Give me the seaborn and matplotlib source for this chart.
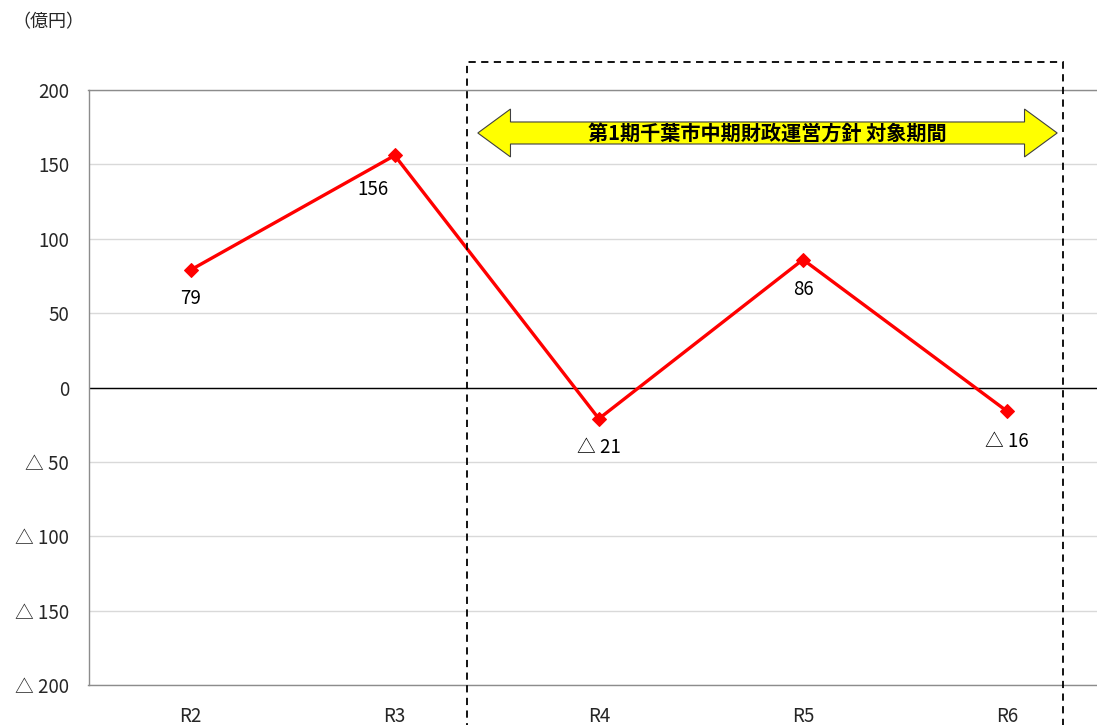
import matplotlib
matplotlib.use("Agg")
import matplotlib.pyplot as plt
import matplotlib.patches as mpatches
from matplotlib.ticker import FuncFormatter
import seaborn as sns
import pandas as pd

# data
years = ["R2", "R3", "R4", "R5", "R6"]
balance = [79, 156, -21, 86, -16]
y_ticks = [-200, -150, -100, -50, 0, 50, 100, 150, 200]
period_title = "第1期千葉市中期財政運営方針 対象期間"

sns.set_theme(style="white")
plt.rcParams["font.family"] = ["Noto Sans CJK JP", "DejaVu Sans"]


def fmt(v):
    v = int(round(v))
    return f"△ {abs(v)}" if v < 0 else f"{v}"


df = pd.DataFrame({"year": years, "value": balance})
df["pos"] = range(len(df))

fig = plt.figure(figsize=(10.97, 7.25), dpi=100)
ax = fig.add_axes([88.5 / 1097, 1 - 685 / 725, 1 - 88.5 / 1097, (685 - 90) / 725])

ax.set_ylim(-200, 200)
ax.set_xlim(-0.5, 4.44)
ax.set_yticks(y_ticks)
ax.yaxis.set_major_formatter(FuncFormatter(lambda v, p: fmt(v)))
ax.grid(axis="y", color="#d9d9d9", linewidth=1)
ax.axhline(0, color="black", linewidth=1, zorder=2)

sns.lineplot(data=df, x="pos", y="value", ax=ax, color="#ff0000", linewidth=2.4,
             marker="D", markersize=7, markeredgecolor="#ff0000", sort=False, zorder=5)

ax.set_xticks(df["pos"])
ax.set_xticklabels(years)
ax.set_xlabel("")
ax.set_ylabel("")
ax.tick_params(axis="x", length=0, pad=15, labelsize=13.5)
ax.tick_params(axis="y", length=0, pad=14, labelsize=13.5)

for s in ["left", "bottom", "top"]:
    ax.spines[s].set_color("#8c8c8c")
    ax.spines[s].set_linewidth(1)
ax.spines["right"].set_visible(False)

# value labels
offsets = [(0, -29), (-22, -34), (0, -29), (0, -30), (0, -30)]
for x, v, off in zip(df["pos"], df["value"], offsets):
    ax.annotate(fmt(v), (x, v), xytext=off, textcoords="offset pixels",
                ha="center", va="center", fontsize=13.5, color="black")

# dashed period box
box_x0, box_x1 = 1.353, 4.275
rect = mpatches.Rectangle((box_x0, -240), box_x1 - box_x0, 218.8 + 240, fill=False,
                          edgecolor="black", linestyle=(0, (4, 3)), linewidth=1.3,
                          clip_on=False, zorder=6)
ax.add_patch(rect)

# yellow double-headed arrow
ax_x0, ax_x1 = 1.407, 4.245
yc, body, head, hl = 171.1, 7.4, 16.1, 0.16
pts = [(ax_x0, yc), (ax_x0 + hl, yc + head), (ax_x0 + hl, yc + body),
       (ax_x1 - hl, yc + body), (ax_x1 - hl, yc + head), (ax_x1, yc),
       (ax_x1 - hl, yc - head), (ax_x1 - hl, yc - body), (ax_x0 + hl, yc - body),
       (ax_x0 + hl, yc - head)]
ax.add_patch(mpatches.Polygon(pts, closed=True, facecolor="#ffff00",
                              edgecolor="#404040", linewidth=0.8, zorder=7))
ax.text((ax_x0 + ax_x1) / 2, yc, period_title, ha="center", va="center",
        fontsize=14.5, fontweight="bold", color="black", zorder=8)

fig.text(12 / 1097, 1 - 22 / 725, "（億円）", ha="left", va="center", fontsize=13)

fig.savefig("out.png", dpi=100)
